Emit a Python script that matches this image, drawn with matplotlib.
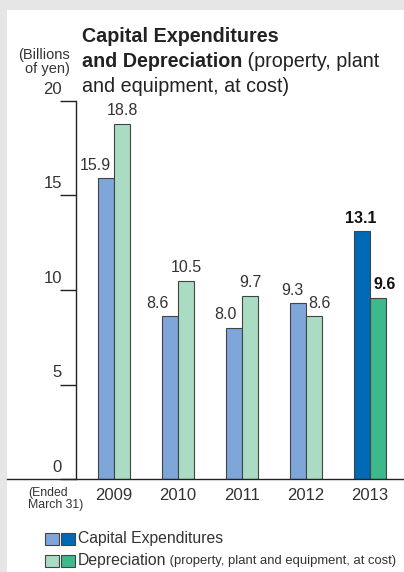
import matplotlib
matplotlib.use("Agg")
import matplotlib.pyplot as plt
from matplotlib.patches import Rectangle
from matplotlib.lines import Line2D
import numpy as np

years = ["2009", "2010", "2011", "2012", "2013"]
capex = [15.9, 8.6, 8.0, 9.3, 13.1]
depreciation = [18.8, 10.5, 9.7, 8.6, 9.6]
yticks = [0, 5, 10, 15, 20]

W, H = 404, 572
capex_colors = ["#7ea6d8"] * 4 + ["#006ab6"]
dep_colors = ["#a9dcc2"] * 4 + ["#3db98b"]
text_col = "#333333"
plt.rcParams["font.family"] = ["Liberation Sans", "DejaVu Sans"]


def fx(x):
    return x / W


def fy(y):
    return 1 - y / H


fig = plt.figure(figsize=(W / 100, H / 100), dpi=100)

# light grey frame on left and top edges
fig.add_artist(Rectangle((0, 0), fx(7), 1, transform=fig.transFigure,
                         color="#e6e6e6", lw=0))
fig.add_artist(Rectangle((0, fy(10)), 1, 10 / H, transform=fig.transFigure,
                         color="#e6e6e6", lw=0))

ax = fig.add_axes([fx(76), fy(479), fx(404 - 76), (479 - 101) / H])
x = np.arange(len(years))
bw = 0.25
ax.bar(x - bw / 2, capex, bw, color=capex_colors, edgecolor="#444444", lw=0.8)
ax.bar(x + bw / 2, depreciation, bw, color=dep_colors, edgecolor="#444444", lw=0.8)
ax.set_xlim(-0.594, 4.53)
ax.set_ylim(0, 20)

for s in ["top", "right", "bottom"]:
    ax.spines[s].set_visible(False)
ax.spines["left"].set_linewidth(1.0)
ax.spines["left"].set_color("#222222")
ax.set_xticks([])
ax.set_yticks(yticks)
ax.set_yticklabels([])
ax.tick_params(axis="y", direction="out", length=11.5, width=1.0, color="#222222")

for v in yticks:
    ax.annotate(str(v), xy=(0, v), xycoords=ax.get_yaxis_transform(),
                xytext=(-10, 3), textcoords="offset points", ha="right",
                va="bottom", fontsize=12, color=text_col)

# x axis line running across the panel
fig.add_artist(Line2D([fx(7), 1], [fy(479), fy(479)], transform=fig.transFigure,
                      color="#222222", lw=1.0))

for i, yr in enumerate(years):
    ax.annotate(yr, xy=(i, 0), xycoords="data", xytext=(0, -12),
                textcoords="offset points", ha="center", va="center",
                fontsize=12, color=text_col)

# value labels (small horizontal nudges as in the original)
cap_dx = [-8, -9, -6, -4, -1]
dep_dx = [0, 0, 0, 4, 5]
for i in range(len(years)):
    bold = "bold" if i == len(years) - 1 else "normal"
    col = text_col if i < 4 else "#111111"
    ax.annotate(f"{capex[i]:.1f}", xy=(i - bw / 2, capex[i]), xytext=(cap_dx[i], 4),
                textcoords="offset points", ha="center", va="bottom",
                fontsize=11.5, color=col, fontweight=bold)
    ax.annotate(f"{depreciation[i]:.1f}", xy=(i + bw / 2, depreciation[i]),
                xytext=(dep_dx[i], 4), textcoords="offset points", ha="center",
                va="bottom", fontsize=11.5, color=col, fontweight=bold)

# title
ts = 14.2
fig.text(fx(82), fy(42), "Capital Expenditures", fontsize=ts, fontweight="bold",
         color="#222222", va="baseline")
t2 = fig.text(fx(82), fy(67), "and Depreciation", fontsize=ts, fontweight="bold",
              color="#222222", va="baseline")
r = fig.canvas.get_renderer()
bb = t2.get_window_extent(r)
fig.text(bb.x1 / W, fy(67), " (property, plant", fontsize=ts, color="#222222",
         va="baseline")
fig.text(fx(82), fy(92), "and equipment, at cost)", fontsize=ts, color="#222222",
         va="baseline")

fig.text(fx(70), fy(62), "(Billions\nof yen)", fontsize=10.5, color=text_col,
         ha="right", va="center", multialignment="right", linespacing=0.95)
fig.text(fx(28), fy(499), "(Ended\nMarch 31)", fontsize=8.8,
         color=text_col, ha="left", va="center", linespacing=0.95)

# legend
for row, (cols, y) in enumerate([((capex_colors[0], capex_colors[-1]), 539),
                                 ((dep_colors[0], dep_colors[-1]), 561)]):
    for k, c in enumerate(cols):
        fig.add_artist(Rectangle((fx(45 + 16 * k), fy(y + 6)), fx(14), 12 / H,
                                 transform=fig.transFigure, facecolor=c,
                                 edgecolor="#444444", lw=0.8))
fig.text(fx(78), fy(539), "Capital Expenditures", fontsize=11.3, color=text_col,
         va="center")
t3 = fig.text(fx(78), fy(561), "Depreciation", fontsize=11.3, color=text_col,
              va="center")
bb3 = t3.get_window_extent(r)
fig.text(bb3.x1 / W, fy(561), " (property, plant and equipment, at cost)",
         fontsize=9.4, color=text_col, va="center")

fig.savefig("out.png", dpi=100)
